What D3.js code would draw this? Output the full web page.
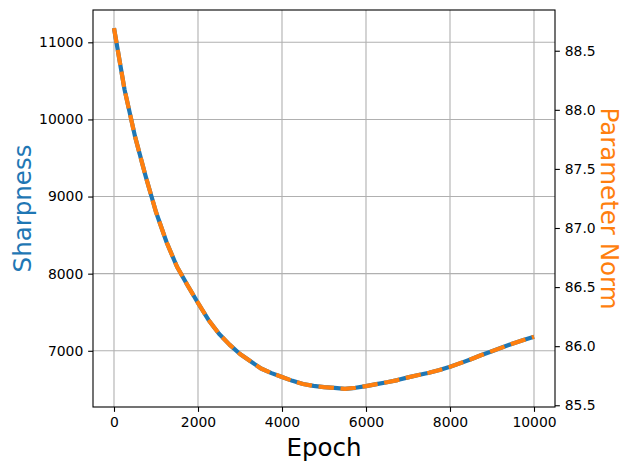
<!DOCTYPE html>
<html>
<head>
<meta charset="utf-8">
<script src="https://cdn.jsdelivr.net/npm/d3@7"></script>
<style>
  body { margin: 0; background: #fff; }
  text { font-family: "DejaVu Sans", sans-serif; }
</style>
</head>
<body>
<div id="chart"></div>
<script>
// data
const epochs = [0, 250, 500, 750, 1000, 1250, 1500, 1750, 2000, 2250, 2500, 2750, 3000, 3250,
                3500, 3750, 4000, 4250, 4500, 4750, 5000, 5250, 5500, 5750, 6000, 6250, 6500,
                6750, 7000, 7250, 7500, 7750, 8000, 8250, 8500, 8750, 9000, 9250, 9500, 9750, 10000];
const sharpness = [11185, 10390, 9780, 9270, 8800, 8410, 8090, 7850, 7620, 7400, 7220, 7080, 6958, 6864,
                   6770, 6710, 6660, 6610, 6570, 6545, 6528, 6518, 6505, 6520, 6542, 6568, 6592,
                   6620, 6655, 6685, 6715, 6750, 6792, 6840, 6890, 6945, 6995, 7045, 7095, 7140, 7182];
const paramNorm = [88.692, 88.173, 87.775, 87.442, 87.135, 86.881, 86.672, 86.516, 86.366, 86.222, 86.105,
                   86.013, 85.934, 85.872, 85.811, 85.772, 85.739, 85.707, 85.680, 85.664, 85.653, 85.647,
                   85.638, 85.648, 85.662, 85.679, 85.695, 85.713, 85.736, 85.756, 85.775, 85.798, 85.825,
                   85.857, 85.889, 85.925, 85.958, 85.990, 86.023, 86.052, 86.080];
const xTicks = [0, 2000, 4000, 6000, 8000, 10000];
const leftTicks = [7000, 8000, 9000, 10000, 11000];
const rightTicks = [85.5, 86.0, 86.5, 87.0, 87.5, 88.0, 88.5];

const width = 630, height = 470;
const margin = { top: 10, right: 75, bottom: 63, left: 93 };
const blue = '#1f77b4', orange = '#ff7f0e';

const svg = d3.select('#chart').append('svg')
  .attr('width', width)
  .attr('height', height);

svg.append('rect').attr('width', width).attr('height', height).attr('fill', '#fff');

// matplotlib-like 5% padding
function padded(vals) {
  const [lo, hi] = d3.extent(vals);
  const p = (hi - lo) * 0.05;
  return [lo - p, hi + p];
}

const x = d3.scaleLinear().domain(padded(epochs)).range([margin.left, width - margin.right]);
const yL = d3.scaleLinear().domain(padded(sharpness)).range([height - margin.bottom, margin.top]);
const yR = d3.scaleLinear().domain(padded(paramNorm)).range([height - margin.bottom, margin.top]);

const tickLen = 4.86, fs = 13.9;

// grid
svg.append('g')
  .selectAll('line')
  .data(xTicks)
  .join('line')
    .attr('x1', d => x(d)).attr('x2', d => x(d))
    .attr('y1', margin.top).attr('y2', height - margin.bottom)
    .attr('stroke', '#b0b0b0').attr('stroke-width', 1.1);
svg.append('g')
  .selectAll('line')
  .data(leftTicks)
  .join('line')
    .attr('x1', margin.left).attr('x2', width - margin.right)
    .attr('y1', d => yL(d)).attr('y2', d => yL(d))
    .attr('stroke', '#b0b0b0').attr('stroke-width', 1.1);

// lines
const lineL = d3.line().x((d, i) => x(epochs[i])).y(d => yL(d));
const lineR = d3.line().x((d, i) => x(epochs[i])).y(d => yR(d));

svg.append('path')
  .datum(sharpness)
  .attr('d', lineL)
  .attr('fill', 'none')
  .attr('stroke', blue)
  .attr('stroke-width', 4.2)
  .attr('stroke-linejoin', 'round');

svg.append('path')
  .datum(paramNorm)
  .attr('d', lineR)
  .attr('fill', 'none')
  .attr('stroke', orange)
  .attr('stroke-width', 4.2)
  .attr('stroke-dasharray', '15.4,6.7')
  .attr('stroke-linejoin', 'round');

// axes
function styleAxis(g) {
  g.select('.domain').remove();
  g.selectAll('.tick line').attr('stroke', '#000').attr('stroke-width', 1.1);
  g.selectAll('.tick text')
    .attr('fill', '#000')
    .style('font-family', '"DejaVu Sans", sans-serif')
    .style('font-size', fs + 'px');
}

svg.append('g')
  .attr('transform', `translate(0,${height - margin.bottom})`)
  .call(d3.axisBottom(x).tickValues(xTicks).tickFormat(d3.format('d'))
    .tickSizeInner(tickLen).tickSizeOuter(0).tickPadding(4.86))
  .call(styleAxis);

svg.append('g')
  .attr('transform', `translate(${margin.left},0)`)
  .call(d3.axisLeft(yL).tickValues(leftTicks).tickFormat(d3.format('d'))
    .tickSizeInner(tickLen).tickSizeOuter(0).tickPadding(4.86))
  .call(styleAxis);

svg.append('g')
  .attr('transform', `translate(${width - margin.right},0)`)
  .call(d3.axisRight(yR).tickValues(rightTicks).tickFormat(d3.format('.1f'))
    .tickSizeInner(tickLen).tickSizeOuter(0).tickPadding(4.86))
  .call(styleAxis);

// frame
svg.append('rect')
  .attr('x', margin.left).attr('y', margin.top)
  .attr('width', width - margin.left - margin.right)
  .attr('height', height - margin.top - margin.bottom)
  .attr('fill', 'none').attr('stroke', '#000').attr('stroke-width', 1.1);

// labels
const midY = (margin.top + height - margin.bottom) / 2;
svg.append('text')
  .attr('x', (margin.left + width - margin.right) / 2)
  .attr('y', 456)
  .attr('text-anchor', 'middle')
  .style('font-size', '24.5px')
  .text('Epoch');

svg.append('text')
  .attr('transform', `translate(31,${midY}) rotate(-90)`)
  .attr('text-anchor', 'middle')
  .attr('fill', blue)
  .style('font-size', '24.5px')
  .text('Sharpness');

svg.append('text')
  .attr('transform', `translate(601,${midY}) rotate(90)`)
  .attr('text-anchor', 'middle')
  .attr('fill', orange)
  .style('font-size', '24.5px')
  .text('Parameter Norm');
</script>
</body>
</html>
